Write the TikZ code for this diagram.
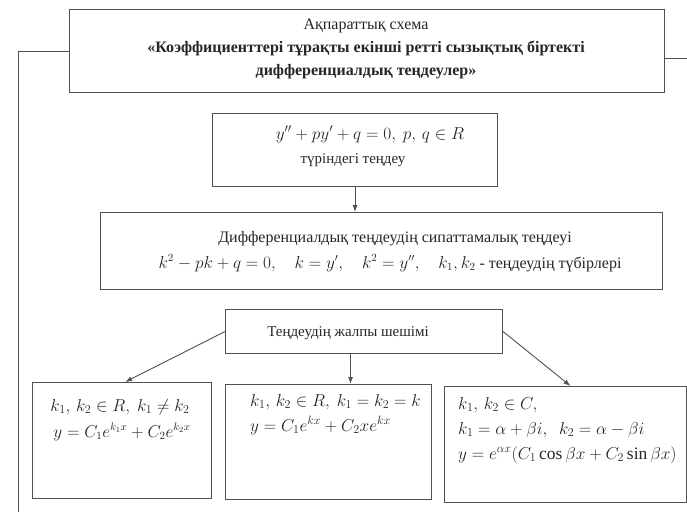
\documentclass[tikz,border=0pt]{standalone}
\usepackage{fontspec}
\setmainfont{Liberation Serif}
\usetikzlibrary{arrows.meta,calc}
\definecolor{ln}{HTML}{505050}
\tikzset{
  box/.style={draw=ln, line width=1.1pt, fill=white, anchor=north west, inner sep=0pt},
  txt/.style={inner sep=0pt, text=black!85, font=\fontsize{16}{23}\selectfont},
  mth/.style={inner sep=0pt, text=black!85, font=\fontsize{16.5}{24}\selectfont},
  mthb/.style={inner sep=0pt, text=black!85, font=\fontsize{17.5}{24}\selectfont},
  conn/.style={draw=ln, line width=0.9pt},
  arr/.style={conn, -{Latex[length=7pt,width=5pt]}}
}
\begin{document}
\begin{tikzpicture}[x=1pt,y=-1pt]
\useasboundingbox (0,0) rectangle (687,515);
% boxes
\node[box, minimum width=595pt, minimum height=83pt] (top) at (69,9) {};
\node[box, minimum width=285pt, minimum height=73pt] (b2) at (212,113) {};
\node[box, minimum width=562pt, minimum height=77pt] (b3) at (100,212) {};
\node[box, minimum width=277pt, minimum height=44pt] (b4) at (225,309) {};
\node[box, minimum width=179pt, minimum height=116pt] (b5) at (32,382) {};
\node[box, minimum width=206pt, minimum height=115pt] (b6) at (225,384) {};
\node[box, minimum width=242pt, minimum height=116pt] (b7) at (444,386) {};
% texts
\node[txt, align=center, anchor=north] (t1) at (366,19) {Ақпараттық схема\\
\textbf{«Коэффициенттері тұрақты екінші ретті сызықтық біртекті}\\
\textbf{дифференциалдық теңдеулер»}};
\node[mth, anchor=base] (t2a) at (370,139) {$y'' + py' + q = 0,\ p,\, q \in R$};
\node[txt, font=\fontsize{15}{20}\selectfont, anchor=base] (t2b) at (353,163) {түріндегі теңдеу};
\node[txt, anchor=base] (t3a) at (395,242) {Дифференциалдық теңдеудің сипаттамалық теңдеуі};
\node[txt, anchor=base] (t3b) at (390,268) {$k^2 - pk + q = 0,\quad k = y',\quad k^2 = y'',\quad k_1, k_2$ - теңдеудің түбірлері};
\node[txt, font=\fontsize{15}{20}\selectfont, anchor=base] (t4) at (348,336) {Теңдеудің жалпы шешімі};
\node[mth, anchor=base] (t5a) at (120,411) {$k_1,\, k_2 \in R,\ k_1 \neq k_2$};
\node[mth, font=\fontsize{16}{20}\selectfont, anchor=base] (t5b) at (122,437) {$y = C_1e^{k_1x} + C_2e^{k_2x}$};
\node[mth, anchor=base west] (t6a) at (250,406) {$k_1,\, k_2 \in R,\ k_1 = k_2 = k$};
\node[mth, anchor=base west] (t6b) at (250,431) {$y = C_1e^{kx} + C_2xe^{kx}$};
\node[mthb, anchor=base west] (t7a) at (458,409) {$k_1,\, k_2 \in C,$};
\node[mthb, anchor=base west] (t7b) at (458,434) {$k_1 = \alpha + \beta i,\ \ k_2 = \alpha - \beta i$};
\node[mthb, anchor=base west] (t7c) at (458,459) {$y = e^{\alpha x}(C_1\cos\beta x + C_2\sin\beta x)$};
% connectors
\coordinate (L1) at (18,512);
\coordinate (R1) at (687,58);
\draw[conn] (top.west) -| (L1);
\draw[conn] (top.east |- R1) -- (R1);
\draw[arr] (b2.south) -- (b2.south |- b3.north);
\draw[arr] (b4.west) -- ([xshift=3pt]b5.north);
\draw[arr] ([xshift=-13.5pt]b4.south) -- ([xshift=-13.5pt]b4.south |- b6.north);
\draw[arr] (b4.east) -- ([xshift=5pt]b7.north);
\end{tikzpicture}
\end{document}
